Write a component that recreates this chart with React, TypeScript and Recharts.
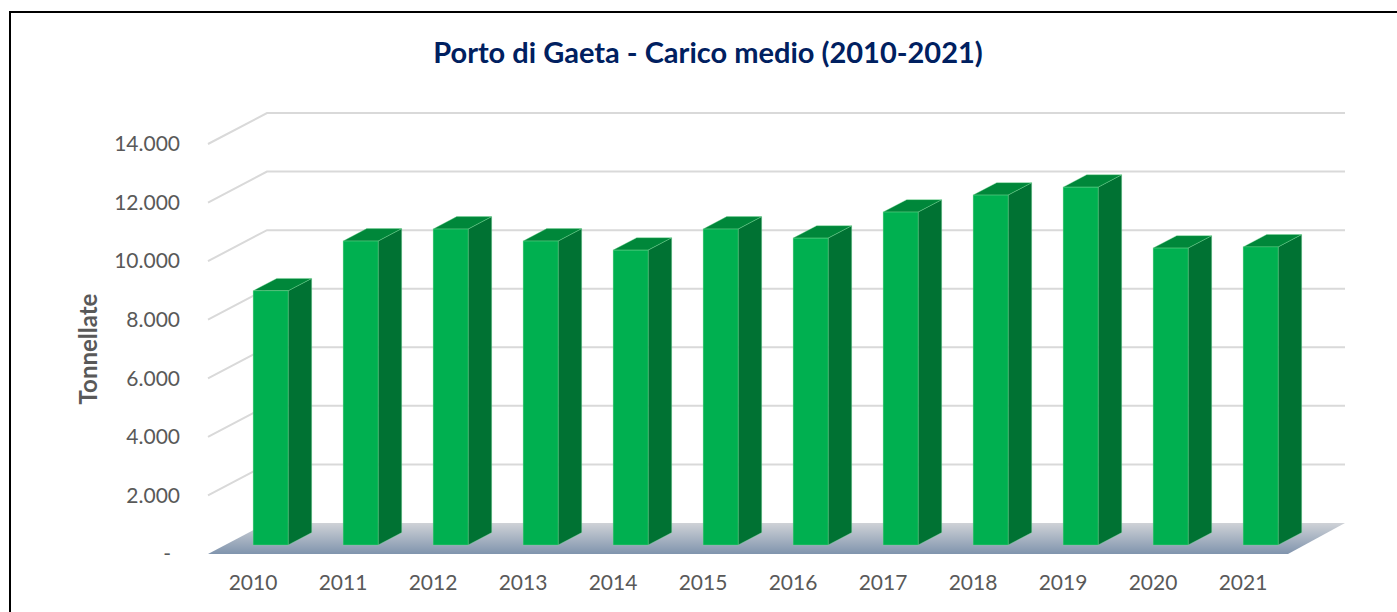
import React from 'react';
import { BarChart, Bar, XAxis, YAxis, CartesianGrid } from 'recharts';

const years = ['2010', '2011', '2012', '2013', '2014', '2015', '2016', '2017', '2018', '2019', '2020', '2021'];
const caricoMedio = [8680, 10380, 10790, 10380, 10070, 10790, 10480, 11370, 11950, 12220, 10140, 10180];
const yTicks = [0, 2000, 4000, 6000, 8000, 10000, 12000, 14000];

const data = years.map((year, i) => ({ year, value: caricoMedio[i] }));

// oblique "3D" depth of the plot box and where the bars sit inside it
const DEPTH_X = 59;
const DEPTH_Y = -31;
const BAR_FRONT = 0.29;
const BAR_DEPTH = 0.4;

const FONT = 'Lato, "Open Sans", sans-serif';
const TEXT_GREY = '#595959';

const formatIt = (v: number) =>
  v === 0 ? '-' : String(v).replace(/\B(?=(\d{3})+(?!\d))/g, '.');

function Bar3D(props: any) {
  const { x, y, width, height } = props;
  if (height == null || width == null) return null;
  const x0 = x + DEPTH_X * BAR_FRONT;
  const y0 = y + DEPTH_Y * BAR_FRONT;
  const sx = DEPTH_X * BAR_DEPTH;
  const sy = DEPTH_Y * BAR_DEPTH;
  const edge = 'rgba(120,220,150,0.6)';
  return (
    <g>
      <polygon
        points={`${x0 + width},${y0} ${x0 + width + sx},${y0 + sy} ${x0 + width + sx},${y0 + height + sy} ${x0 + width},${y0 + height}`}
        fill="#007233"
        stroke={edge}
        strokeWidth={0.6}
      />
      <polygon
        points={`${x0},${y0} ${x0 + sx},${y0 + sy} ${x0 + width + sx},${y0 + sy} ${x0 + width},${y0}`}
        fill="#00873a"
        stroke={edge}
        strokeWidth={0.6}
      />
      <rect x={x0} y={y0} width={width} height={height} fill="#00b050" stroke={edge} strokeWidth={0.6} />
    </g>
  );
}

function GridLine3D(props: any) {
  const { x1, y1, x2, y, height } = props;
  const isFloor =
    y != null && height != null ? Math.abs(y1 - (y + height)) < 1 : props.index === 0;
  if (isFloor) {
    return (
      <g>
        <defs>
          <linearGradient id="floorGrad" x1="0" y1="0" x2="0" y2="1">
            <stop offset="0%" stopColor="#cfd2d7" />
            <stop offset="100%" stopColor="#8094ad" />
          </linearGradient>
        </defs>
        <polygon
          points={`${x1},${y1} ${x1 + DEPTH_X},${y1 + DEPTH_Y} ${x2 + DEPTH_X - 2},${y1 + DEPTH_Y} ${x2},${y1}`}
          fill="url(#floorGrad)"
        />
      </g>
    );
  }
  return (
    <polyline
      points={`${x1},${y1} ${x1 + DEPTH_X},${y1 + DEPTH_Y} ${x2 + DEPTH_X - 2},${y1 + DEPTH_Y}`}
      fill="none"
      stroke="#d9d9d9"
      strokeWidth={2}
    />
  );
}

function YTick(props: any) {
  const { x, y, payload } = props;
  const v = payload.value as number;
  return (
    <text
      x={v === 0 ? x - 9 : x}
      y={y}
      dy="0.35em"
      textAnchor="end"
      fill={TEXT_GREY}
      fontSize={21}
      fontFamily={FONT}
    >
      {formatIt(v)}
    </text>
  );
}

function YTitle(props: any) {
  const { viewBox } = props;
  const cx = viewBox.x + 67;
  const cy = viewBox.y + viewBox.height / 2;
  return (
    <text
      x={cx}
      y={cy}
      transform={`rotate(-90 ${cx} ${cy})`}
      textAnchor="middle"
      dominantBaseline="central"
      fill={TEXT_GREY}
      fontSize={24}
      fontWeight="bold"
      fontFamily={FONT}
    >
      Tonnellate
    </text>
  );
}

export default function App() {
  return (
    <div style={{ position: 'fixed', left: 0, top: 0, width: 1397, height: 612, overflow: 'hidden', background: '#fff' }}>
      <div
        style={{
          position: 'absolute',
          left: 9,
          top: 11,
          width: 1400,
          height: 620,
          border: '2px solid #000',
          boxSizing: 'border-box',
        }}
      />
      <div
        style={{
          position: 'absolute',
          left: 0,
          top: 32,
          width: 1416,
          textAlign: 'center',
          fontFamily: FONT,
          fontWeight: 'bold',
          fontSize: 29,
          lineHeight: '40px',
          color: '#002060',
        }}
      >
        Porto di Gaeta - Carico medio (2010-2021)
      </div>
      <div style={{ position: 'absolute', left: 0, top: 0 }}>
        <BarChart
          width={1397}
          height={612}
          data={data}
          margin={{ top: 144, right: 109, bottom: 28, left: 20 }}
        >
          <CartesianGrid vertical={false} horizontal={(p: any) => <GridLine3D {...p} />} />
          <XAxis
            dataKey="year"
            axisLine={false}
            tickLine={false}
            tickMargin={15}
            height={30}
            tick={{ fill: TEXT_GREY, fontSize: 21, fontFamily: FONT }}
            interval={0}
          />
          <YAxis
            type="number"
            domain={[0, 14000]}
            ticks={yTicks}
            width={188}
            axisLine={false}
            tickLine={false}
            tickMargin={22}
            tick={(p: any) => <YTick {...p} />}
            label={<YTitle />}
          />
          <Bar dataKey="value" barSize={35} isAnimationActive={false} shape={(p: any) => <Bar3D {...p} />} />
        </BarChart>
      </div>
    </div>
  );
}
